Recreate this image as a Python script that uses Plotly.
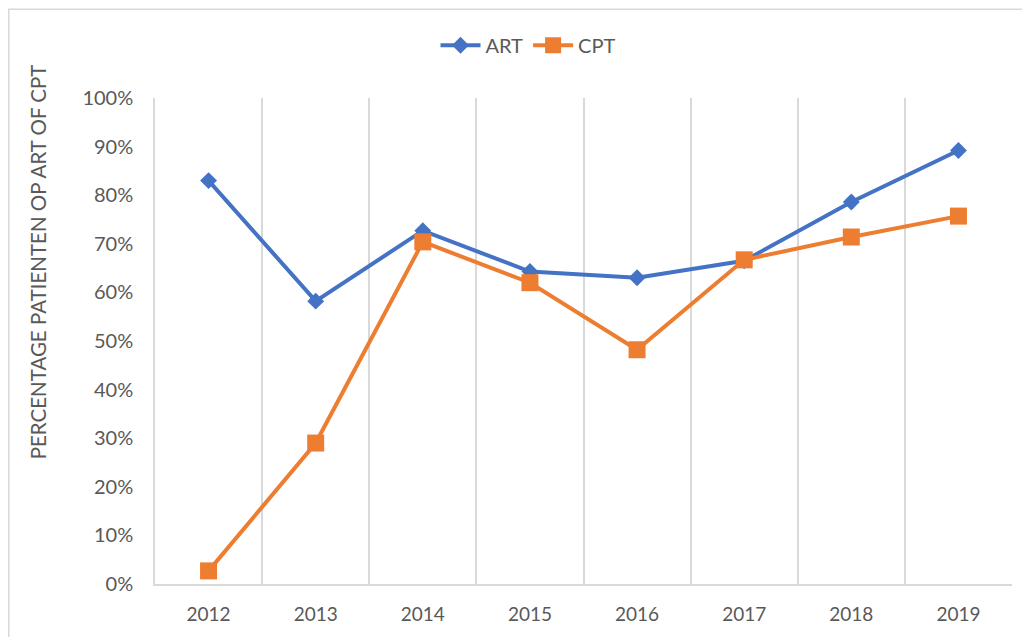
import plotly.graph_objects as go

years = ["2012", "2013", "2014", "2015", "2016", "2017", "2018", "2019"]
art = [0.83, 0.582, 0.727, 0.643, 0.630, 0.665, 0.786, 0.892]
cpt = [0.027, 0.290, 0.704, 0.620, 0.482, 0.667, 0.714, 0.757]
y_ticks = [0, 0.1, 0.2, 0.3, 0.4, 0.5, 0.6, 0.7, 0.8, 0.9, 1.0]
y_title = "PERCENTAGE PATIENTEN OP ART OF CPT"

FONT = "Lato"
TXT = "#595959"
GRID = "#d9d9d9"

fig = go.Figure()
fig.add_trace(go.Scatter(
    x=years, y=art, name="ART", mode="lines+markers",
    line=dict(color="#4472C4", width=4),
    marker=dict(symbol="diamond", size=13, color="#4472C4"),
))
fig.add_trace(go.Scatter(
    x=years, y=cpt, name="CPT", mode="lines+markers",
    line=dict(color="#ED7D31", width=4),
    marker=dict(symbol="square", size=17, color="#ED7D31"),
))

# the page body adds an 8px offset; the figure is sized to fit the window
OFF = 8
W, H = 1030 - OFF, 637 - OFF
L, R, T, B = 155 - OFF, 18, 98 - OFF, 51
pw, ph = W - L - R, H - T - B


def px_x(x):
    return (x - OFF - L) / pw


def px_y(y):
    return (H - B - (y - OFF)) / ph


fig.update_layout(
    width=W, height=H,
    margin=dict(l=L, r=R, t=T, b=B),
    paper_bgcolor="white", plot_bgcolor="white",
    font=dict(family=FONT, size=20, color=TXT),
    showlegend=True,
    legend=dict(
        orientation="h", x=px_x(528), y=px_y(45),
        xanchor="center", yanchor="middle",
        font=dict(family=FONT, size=20, color=TXT),
        itemwidth=40, bgcolor="rgba(0,0,0,0)",
    ),
    xaxis=dict(
        type="category", range=[-0.5, 7.5],
        tickson="boundaries", showgrid=True, gridcolor=GRID, gridwidth=1.5,
        showline=True, linecolor=GRID, linewidth=1.5,
        ticks="", ticklabelstandoff=12,
        tickfont=dict(family=FONT, size=19, color=TXT),
        zeroline=False, fixedrange=True,
    ),
    yaxis=dict(
        range=[0, 1.0], tickvals=y_ticks, tickformat=".0%",
        showgrid=False, zeroline=False,
        showline=True, linecolor=GRID, linewidth=1.5,
        ticks="", ticklabelstandoff=16,
        tickfont=dict(family=FONT, size=20, color=TXT),
        fixedrange=True,
    ),
    annotations=[dict(
        text=y_title, textangle=-90,
        x=px_x(38), y=px_y(263), xref="paper", yref="paper",
        xanchor="center", yanchor="middle", showarrow=False,
        font=dict(family=FONT, size=20.5, color=TXT),
    )],
    shapes=[dict(
        type="rect", xref="paper", yref="paper",
        x0=px_x(8.8), x1=px_x(1045), y0=px_y(660), y1=px_y(8.8),
        line=dict(color=GRID, width=1.5), fillcolor="rgba(0,0,0,0)",
        layer="below",
    )],
)

fig.write_html("out.html")
